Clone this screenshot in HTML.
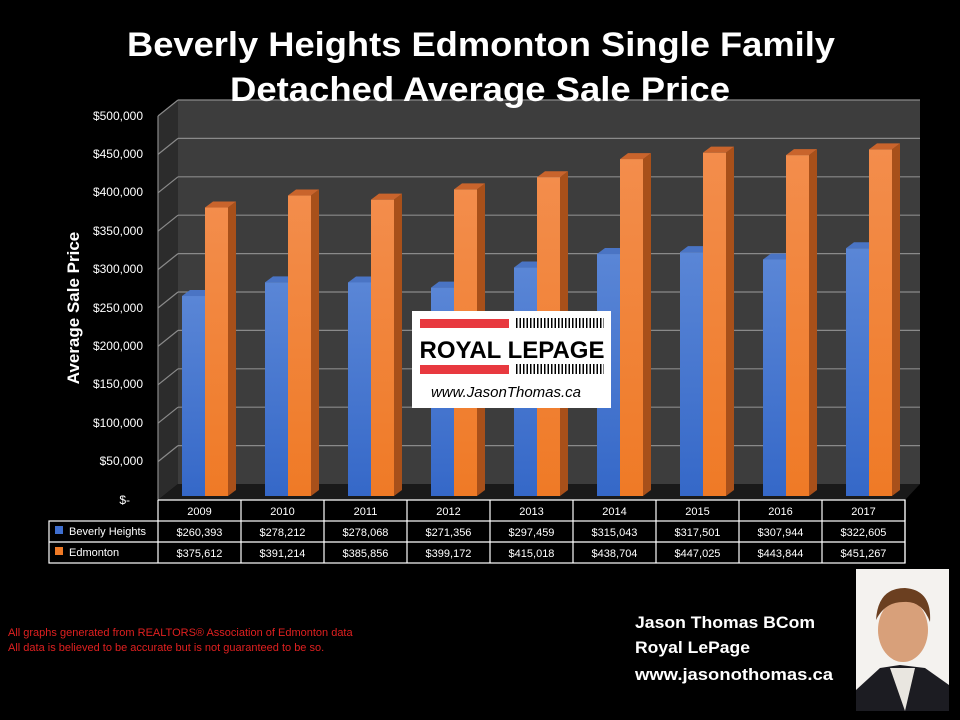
<!DOCTYPE html>
<html><head><style>
body{margin:0;background:#000;width:960px;height:720px;overflow:hidden;font-family:"Liberation Sans",sans-serif}
</style></head><body>
<svg width="960" height="720" xmlns="http://www.w3.org/2000/svg" style="position:absolute;left:0;top:0">
<defs>
<linearGradient id="bl" x1="0" y1="0" x2="0" y2="1"><stop offset="0" stop-color="#5a86d6"/><stop offset="1" stop-color="#3568c8"/></linearGradient>
<linearGradient id="or" x1="0" y1="0" x2="0" y2="1"><stop offset="0" stop-color="#f38d4c"/><stop offset="1" stop-color="#ef7a26"/></linearGradient>
</defs>
<rect x="178" y="100" width="742" height="384" fill="#3d3d3d"/>
<polygon points="158,116 178,100 178,484 158,500" fill="#2c2c2c"/>
<polygon points="158,500 178,484 920,484 905,500" fill="#1a1a1a"/>
<g stroke="#8a8a8a" stroke-width="1.2" fill="none">
<line x1="178" y1="100" x2="920" y2="100"/><line x1="158" y1="116" x2="178" y2="100"/>
<line x1="178" y1="138.4" x2="920" y2="138.4"/><line x1="158" y1="154.4" x2="178" y2="138.4"/>
<line x1="178" y1="176.8" x2="920" y2="176.8"/><line x1="158" y1="192.8" x2="178" y2="176.8"/>
<line x1="178" y1="215.2" x2="920" y2="215.2"/><line x1="158" y1="231.2" x2="178" y2="215.2"/>
<line x1="178" y1="253.6" x2="920" y2="253.6"/><line x1="158" y1="269.6" x2="178" y2="253.6"/>
<line x1="178" y1="292" x2="920" y2="292"/><line x1="158" y1="308" x2="178" y2="292"/>
<line x1="178" y1="330.4" x2="920" y2="330.4"/><line x1="158" y1="346.4" x2="178" y2="330.4"/>
<line x1="178" y1="368.8" x2="920" y2="368.8"/><line x1="158" y1="384.8" x2="178" y2="368.8"/>
<line x1="178" y1="407.2" x2="920" y2="407.2"/><line x1="158" y1="423.2" x2="178" y2="407.2"/>
<line x1="178" y1="445.6" x2="920" y2="445.6"/><line x1="158" y1="461.6" x2="178" y2="445.6"/>
<line x1="158" y1="116" x2="158" y2="500"/>
</g>
<text x="127" y="56" fill="#fff" font-size="34" font-weight="bold" textLength="708" lengthAdjust="spacingAndGlyphs">Beverly Heights Edmonton Single Family</text>
<text x="230" y="101" fill="#fff" font-size="34" font-weight="bold" textLength="500" lengthAdjust="spacingAndGlyphs">Detached Average Sale Price</text>
<g fill="#fff" font-size="12" text-anchor="end">
<text x="143" y="120">$500,000</text><text x="143" y="158">$450,000</text><text x="143" y="196">$400,000</text>
<text x="143" y="235">$350,000</text><text x="143" y="273">$300,000</text><text x="143" y="312">$250,000</text>
<text x="143" y="350">$200,000</text><text x="143" y="388">$150,000</text><text x="143" y="427">$100,000</text>
<text x="143" y="465">$50,000</text><text x="130" y="504">$-</text>
</g>
<text transform="translate(79,308) rotate(-90)" fill="#fff" font-size="17" font-weight="bold" text-anchor="middle">Average Sale Price</text>
<g id="bars"></g>
<g fill="none" stroke="#fff" stroke-width="1.2">
<rect x="49" y="521" width="856" height="42"/>
<line x1="49" y1="542" x2="905" y2="542"/>
<polyline points="158,500 158,563"/>
<polyline points="158,500 905,500 905,521"/>
</g>
<g id="tbl" fill="#fff" font-size="11" text-anchor="middle"></g>
<rect x="55" y="526" width="8" height="8" fill="#3f6fd0"/>
<rect x="55" y="547" width="8" height="8" fill="#ef7a26"/>
<text x="69" y="535" fill="#fff" font-size="11">Beverly Heights</text>
<text x="69" y="556" fill="#fff" font-size="11">Edmonton</text>
<rect x="412" y="311" width="199" height="97" fill="#fff"/>
<rect x="420" y="319" width="89" height="9" fill="#e8393f"/>
<rect x="420" y="365" width="89" height="9" fill="#e8393f"/>
<g stroke="#000" stroke-width="1.5">
<line x1="516" y1="319" x2="604" y2="319" stroke-dasharray="1.5 2" stroke-width="10" transform="translate(0,4)"/>
<line x1="516" y1="365" x2="604" y2="365" stroke-dasharray="1.5 2" stroke-width="10" transform="translate(0,4)"/>
</g>
<text x="512" y="358" font-size="24" font-weight="bold" text-anchor="middle" fill="#000">ROYAL LEPAGE</text>
<text x="506" y="397" font-size="15" font-style="italic" text-anchor="middle" fill="#000">www.JasonThomas.ca</text>
<text x="8" y="636" fill="#e02020" font-size="11">All graphs generated from REALTORS® Association of Edmonton data</text>
<text x="8" y="651" fill="#e02020" font-size="11">All data is believed to be accurate but is not guaranteed to be so.</text>
<g fill="#fff" font-size="17" font-weight="bold">
<text x="635" y="628" textLength="180" lengthAdjust="spacingAndGlyphs">Jason Thomas BCom</text>
<text x="635" y="653" textLength="115" lengthAdjust="spacingAndGlyphs">Royal LePage</text>
<text x="635" y="680" textLength="198" lengthAdjust="spacingAndGlyphs">www.jasonothomas.ca</text>
</g>
<rect x="856" y="569" width="93" height="142" fill="#f4f2ef"/>
<path d="M856,690 L880,668 L900,665 L925,668 L949,685 L949,711 L856,711Z" fill="#1c1c22"/>
<ellipse cx="903" cy="630" rx="25" ry="32" fill="#d8a07a"/>
<path d="M876,620 Q878,588 905,588 Q932,590 930,622 Q922,600 903,602 Q885,602 876,620Z" fill="#6b3f20"/>
<path d="M890,668 L905,711 L915,668Z" fill="#e9e6e0"/>
</svg>
<script>
var b=[260.393,278.212,278.068,271.356,297.459,315.043,317.501,307.944,322.605];
var o=[375.612,391.214,385.856,399.172,415.018,438.704,447.025,443.844,451.267];
var yrs=[2009,2010,2011,2012,2013,2014,2015,2016,2017];
var bs=["$260,393","$278,212","$278,068","$271,356","$297,459","$315,043","$317,501","$307,944","$322,605"];
var os=["$375,612","$391,214","$385,856","$399,172","$415,018","$438,704","$447,025","$443,844","$451,267"];
var s="",t="",z=496,k=0.768;
function bar(x,v,f,side,top){var y=z-v*k;return '<polygon points="'+(x+23)+','+y+' '+(x+31)+','+(y-6)+' '+(x+31)+','+(z-6)+' '+(x+23)+','+z+'" fill="'+side+'"/>'+'<polygon points="'+x+','+y+' '+(x+8)+','+(y-6)+' '+(x+31)+','+(y-6)+' '+(x+23)+','+y+'" fill="'+top+'"/>'+'<rect x="'+x+'" y="'+y+'" width="23" height="'+(z-y)+'" fill="'+f+'"/>';}
for(var i=0;i<9;i++){var x0=158+83*i;
s+=bar(x0+24,b[i],"url(#bl)","#2c4f96","#4a74c4");
s+=bar(x0+47,o[i],"url(#or)","#a8501a","#c9642c");
var cx=x0+41.5;
t+='<text x="'+cx+'" y="515">'+yrs[i]+'</text><text x="'+cx+'" y="536">'+bs[i]+'</text><text x="'+cx+'" y="557">'+os[i]+'</text>';
t+='<line x1="'+(x0+83)+'" y1="500" x2="'+(x0+83)+'" y2="563" stroke="#fff" stroke-width="1.2"/>';}
document.getElementById("bars").innerHTML=s;
document.getElementById("tbl").innerHTML=t;
</script>
</body></html>
